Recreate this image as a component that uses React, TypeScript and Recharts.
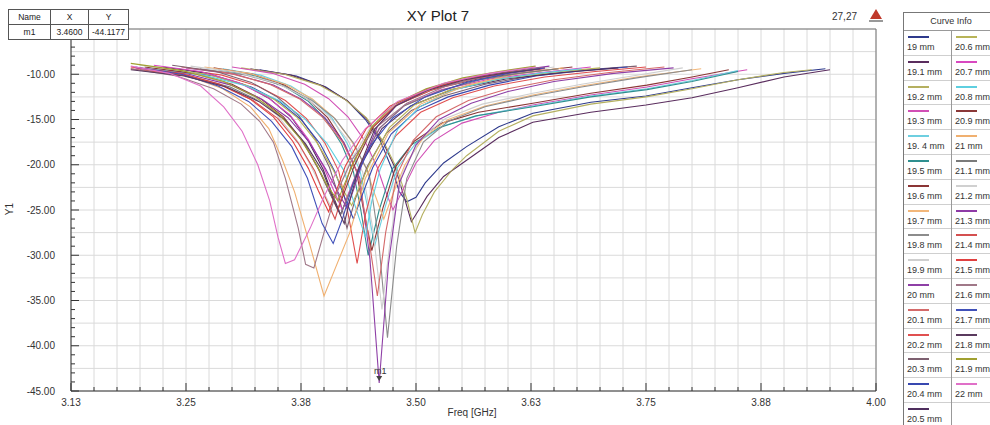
import React from 'react';
import { LineChart, Line, XAxis, YAxis, CartesianGrid, ReferenceLine, ReferenceDot, Label } from 'recharts';

const curveLabels = [
  '19 mm', '19.1 mm', '19.2 mm', '19.3 mm', '19. 4 mm', '19.5 mm', '19.6 mm', '19.7 mm',
  '19.8 mm', '19.9 mm', '20 mm', '20.1 mm', '20.2 mm', '20.3 mm', '20.4 mm', '20.5 mm',
  '20.6 mm', '20.7 mm', '20.8 mm', '20.9 mm', '21 mm', '21.1 mm', '21.2 mm', '21.3 mm',
  '21.4 mm', '21.5 mm', '21.6 mm', '21.7 mm', '21.8 mm', '21.9 mm', '22 mm',
];

const curveColors = [
  '#2e3a8c', '#5a2d5e', '#b5b060', '#d14fb5', '#6ecfe0', '#2f8f8f', '#8b3535', '#f2b77a',
  '#8c8c8c', '#cfcfcf', '#8e3fa6', '#d46a6a', '#e05050', '#7d6070', '#3848b0', '#4e2e5e',
  '#b8b458', '#d848c0', '#5ecfe0', '#8a3838', '#f0b070', '#7a7a7a', '#d0d0d0', '#8e3aa6',
  '#d45050', '#e04040', '#a07888', '#4050b8', '#5a3a5e', '#a0a030', '#e070c8',
];

const curveFreqs: number[][] = [
  [3.330, 3.370, 3.402, 3.426, 3.445, 3.461, 3.474, 3.482, 3.490, 3.500, 3.510, 3.530, 3.555, 3.590, 3.627, 3.690, 3.750, 3.800, 3.850, 3.900, 3.945],
  [3.320, 3.364, 3.399, 3.425, 3.446, 3.464, 3.478, 3.486, 3.495, 3.503, 3.512, 3.530, 3.555, 3.590, 3.627, 3.690, 3.750, 3.800, 3.850, 3.900, 3.950],
  [3.310, 3.357, 3.395, 3.423, 3.446, 3.465, 3.480, 3.490, 3.499, 3.507, 3.520, 3.540, 3.555, 3.590, 3.627, 3.690, 3.750, 3.800, 3.850, 3.900, 3.930],
  [3.300, 3.344, 3.379, 3.405, 3.426, 3.444, 3.458, 3.466, 3.475, 3.487, 3.500, 3.520, 3.550, 3.590, 3.627, 3.690, 3.751, 3.800, 3.860],
  [3.290, 3.331, 3.364, 3.389, 3.409, 3.425, 3.439, 3.447, 3.455, 3.467, 3.480, 3.500, 3.530, 3.570, 3.627, 3.690, 3.751, 3.800, 3.850],
  [3.285, 3.326, 3.358, 3.383, 3.402, 3.419, 3.432, 3.440, 3.448, 3.460, 3.474, 3.495, 3.525, 3.565, 3.627, 3.690, 3.751, 3.800, 3.850],
  [3.280, 3.323, 3.357, 3.383, 3.404, 3.421, 3.435, 3.443, 3.452, 3.464, 3.478, 3.498, 3.528, 3.568, 3.627, 3.690, 3.751, 3.800, 3.840],
  [3.270, 3.319, 3.358, 3.387, 3.410, 3.430, 3.446, 3.455, 3.465, 3.475, 3.488, 3.508, 3.535, 3.575, 3.627, 3.680, 3.740, 3.810],
  [3.265, 3.316, 3.357, 3.387, 3.412, 3.432, 3.449, 3.459, 3.469, 3.479, 3.490, 3.508, 3.535, 3.575, 3.627, 3.680, 3.740, 3.800],
  [3.255, 3.307, 3.349, 3.380, 3.405, 3.426, 3.442, 3.453, 3.463, 3.473, 3.485, 3.505, 3.532, 3.572, 3.627, 3.680, 3.735, 3.790],
  [3.250, 3.303, 3.345, 3.376, 3.401, 3.422, 3.439, 3.450, 3.460, 3.470, 3.482, 3.500, 3.525, 3.560, 3.600, 3.650, 3.715, 3.780],
  [3.245, 3.298, 3.341, 3.373, 3.398, 3.420, 3.437, 3.447, 3.458, 3.467, 3.479, 3.497, 3.522, 3.557, 3.600, 3.650, 3.710, 3.770],
  [3.240, 3.289, 3.328, 3.358, 3.381, 3.401, 3.416, 3.426, 3.436, 3.445, 3.458, 3.478, 3.505, 3.540, 3.585, 3.640, 3.695, 3.750],
  [3.235, 3.283, 3.321, 3.349, 3.372, 3.391, 3.406, 3.416, 3.425, 3.434, 3.447, 3.468, 3.495, 3.530, 3.575, 3.630, 3.685, 3.740],
  [3.230, 3.281, 3.321, 3.351, 3.375, 3.396, 3.412, 3.422, 3.432, 3.441, 3.453, 3.473, 3.500, 3.535, 3.580, 3.630, 3.680, 3.730],
  [3.225, 3.273, 3.312, 3.341, 3.364, 3.383, 3.399, 3.408, 3.418, 3.427, 3.439, 3.463, 3.494, 3.539, 3.599, 3.660, 3.720],
  [3.220, 3.273, 3.315, 3.346, 3.371, 3.392, 3.409, 3.420, 3.430, 3.438, 3.449, 3.471, 3.498, 3.538, 3.592, 3.646, 3.700],
  [3.215, 3.266, 3.307, 3.338, 3.363, 3.383, 3.400, 3.410, 3.420, 3.428, 3.439, 3.461, 3.488, 3.528, 3.582, 3.636, 3.690],
  [3.210, 3.269, 3.316, 3.351, 3.379, 3.403, 3.422, 3.433, 3.445, 3.452, 3.461, 3.480, 3.504, 3.539, 3.586, 3.633, 3.680],
  [3.205, 3.258, 3.300, 3.331, 3.356, 3.377, 3.394, 3.405, 3.415, 3.423, 3.433, 3.453, 3.479, 3.517, 3.568, 3.619, 3.670],
  [3.200, 3.250, 3.290, 3.320, 3.340, 3.355, 3.368, 3.385, 3.400, 3.410, 3.428, 3.445, 3.470, 3.505, 3.556, 3.608, 3.660],
  [3.200, 3.254, 3.298, 3.331, 3.357, 3.379, 3.396, 3.407, 3.418, 3.427, 3.438, 3.460, 3.487, 3.527, 3.570, 3.612, 3.655],
  [3.200, 3.252, 3.293, 3.324, 3.349, 3.370, 3.386, 3.397, 3.407, 3.416, 3.427, 3.450, 3.477, 3.518, 3.562, 3.606, 3.650],
  [3.195, 3.253, 3.299, 3.333, 3.361, 3.384, 3.402, 3.414, 3.425, 3.432, 3.441, 3.458, 3.480, 3.513, 3.557, 3.601, 3.645],
  [3.190, 3.246, 3.290, 3.323, 3.350, 3.372, 3.390, 3.401, 3.412, 3.419, 3.429, 3.451, 3.477, 3.516, 3.557, 3.599, 3.640],
  [3.190, 3.244, 3.287, 3.319, 3.345, 3.366, 3.383, 3.394, 3.405, 3.413, 3.423, 3.446, 3.472, 3.512, 3.555, 3.597, 3.640],
  [3.190, 3.240, 3.280, 3.310, 3.330, 3.345, 3.358, 3.372, 3.380, 3.389, 3.400, 3.412, 3.430, 3.455, 3.490, 3.535, 3.585, 3.635],
  [3.195, 3.245, 3.285, 3.318, 3.343, 3.365, 3.382, 3.398, 3.410, 3.420, 3.432, 3.450, 3.475, 3.510, 3.555, 3.600, 3.640],
  [3.190, 3.248, 3.294, 3.329, 3.357, 3.380, 3.399, 3.410, 3.422, 3.428, 3.437, 3.455, 3.478, 3.512, 3.553, 3.594, 3.635],
  [3.190, 3.246, 3.291, 3.324, 3.351, 3.374, 3.392, 3.403, 3.415, 3.422, 3.432, 3.452, 3.476, 3.511, 3.551, 3.590, 3.630],
  [3.190, 3.232, 3.266, 3.291, 3.311, 3.328, 3.341, 3.350, 3.358, 3.368, 3.385, 3.400, 3.420, 3.445, 3.480, 3.530, 3.580, 3.630],
];

const curveS11: number[][] = [
  [-9.5, -10.2, -11.4, -13.0, -15.0, -17.3, -20.5, -23.0, -24.1, -23.6, -22.0, -19.8, -18.0, -15.8, -14.3, -13.1, -12.4, -11.5, -10.6, -9.9, -9.4],
  [-9.4, -10.1, -11.3, -12.9, -14.9, -17.5, -20.5, -23.2, -26.3, -25.0, -23.5, -21.3, -19.5, -17.0, -15.3, -14.2, -13.4, -12.6, -11.5, -10.3, -9.5],
  [-9.3, -10.0, -11.2, -12.8, -14.8, -17.5, -20.6, -23.8, -27.5, -25.5, -23.0, -20.5, -19.0, -16.3, -14.6, -13.3, -12.5, -11.6, -10.6, -9.8, -9.5],
  [-9.2, -9.9, -11.1, -12.7, -14.7, -17.3, -20.3, -22.7, -25.0, -22.5, -19.8, -17.3, -15.4, -14.2, -13.4, -12.3, -11.4, -10.5, -9.5],
  [-9.4, -10.1, -11.3, -12.9, -14.9, -17.6, -20.6, -24.5, -29.0, -24.5, -20.3, -17.6, -15.7, -14.5, -13.5, -12.4, -11.6, -10.7, -9.6],
  [-9.5, -10.2, -11.4, -13.0, -15.0, -17.7, -20.8, -25.0, -30.0, -25.0, -20.5, -17.8, -15.9, -14.6, -13.6, -12.5, -11.7, -10.8, -9.7],
  [-9.3, -10.0, -11.2, -12.8, -14.8, -17.5, -20.6, -25.0, -29.5, -24.8, -20.2, -17.4, -15.4, -14.2, -13.2, -12.1, -11.2, -10.3, -9.5],
  [-9.2, -9.9, -11.1, -12.7, -14.7, -17.4, -20.4, -23.2, -26.0, -23.2, -20.0, -17.0, -15.0, -13.5, -12.3, -11.3, -10.3, -9.4],
  [-9.4, -10.1, -11.3, -12.9, -14.9, -17.6, -21.0, -28.0, -39.1, -29.0, -21.5, -17.5, -15.2, -13.6, -12.4, -11.4, -10.4, -9.5],
  [-9.1, -9.8, -11.0, -12.6, -14.6, -17.3, -20.8, -27.0, -36.0, -27.5, -21.0, -17.1, -14.9, -13.3, -12.1, -11.1, -10.2, -9.3],
  [-9.3, -10.0, -11.2, -12.8, -14.8, -17.6, -21.5, -30.5, -44.1177, -31.0, -22.0, -17.8, -15.0, -13.2, -11.9, -10.8, -9.9, -9.3],
  [-9.2, -9.9, -11.1, -12.7, -14.7, -17.5, -21.0, -27.0, -34.5, -27.5, -21.2, -17.3, -14.7, -12.9, -11.6, -10.6, -9.8, -9.2],
  [-9.4, -10.1, -11.3, -12.9, -14.9, -17.6, -20.7, -25.3, -30.9, -25.5, -20.5, -16.8, -14.2, -12.6, -11.3, -10.3, -9.7, -9.2],
  [-9.0, -9.7, -10.9, -12.5, -14.5, -17.2, -20.3, -23.5, -27.0, -23.8, -20.2, -16.5, -14.0, -12.4, -11.1, -10.1, -9.5, -9.1],
  [-9.5, -10.2, -11.4, -13.0, -15.0, -17.7, -20.8, -23.5, -26.0, -23.5, -20.3, -16.6, -14.1, -12.5, -11.2, -10.2, -9.6, -9.2],
  [-9.2, -9.9, -11.1, -12.7, -14.7, -17.4, -20.5, -23.0, -25.5, -23.2, -20.2, -16.0, -13.5, -11.7, -10.5, -9.8, -9.3],
  [-9.3, -10.0, -11.2, -12.8, -14.8, -17.5, -20.4, -22.6, -24.5, -22.6, -20.0, -15.9, -13.4, -11.7, -10.5, -9.8, -9.3],
  [-9.0, -9.7, -10.9, -12.5, -14.5, -17.2, -20.3, -22.7, -25.0, -22.8, -20.0, -15.9, -13.4, -11.7, -10.5, -9.8, -9.2],
  [-9.4, -10.1, -11.3, -12.9, -14.9, -17.6, -20.7, -24.3, -28.0, -24.0, -20.5, -16.1, -13.6, -11.8, -10.6, -9.9, -9.4],
  [-9.2, -9.9, -11.1, -12.7, -14.7, -17.4, -20.5, -22.8, -25.0, -22.8, -20.1, -15.9, -13.4, -11.7, -10.5, -9.8, -9.2],
  [-9.3, -10.1, -11.6, -13.6, -16.0, -19.5, -23.0, -29.0, -34.5, -32.0, -27.5, -21.5, -16.5, -13.3, -11.2, -10.0, -9.3],
  [-9.5, -10.2, -11.4, -13.0, -15.0, -17.7, -20.8, -23.3, -25.5, -23.3, -20.3, -16.0, -13.5, -11.8, -10.6, -9.9, -9.4],
  [-9.0, -9.7, -10.9, -12.5, -14.5, -17.2, -20.2, -22.5, -24.5, -22.6, -20.0, -15.9, -13.4, -11.7, -10.5, -9.8, -9.2],
  [-9.3, -10.0, -11.2, -12.8, -14.8, -17.5, -20.5, -22.8, -24.8, -22.8, -20.0, -15.8, -13.3, -11.6, -10.4, -9.7, -9.1],
  [-9.4, -10.1, -11.3, -12.9, -14.9, -17.6, -20.7, -23.5, -26.0, -23.6, -20.3, -16.0, -13.5, -11.8, -10.6, -9.9, -9.4],
  [-9.2, -9.9, -11.1, -12.7, -14.7, -17.4, -20.4, -22.9, -25.2, -23.0, -20.2, -16.0, -13.5, -11.7, -10.5, -9.8, -9.3],
  [-9.4, -10.2, -11.6, -13.3, -15.2, -17.5, -21.5, -27.0, -31.0, -31.4, -27.5, -23.5, -19.5, -16.0, -13.2, -11.2, -10.0, -9.3],
  [-9.2, -10.0, -11.3, -13.0, -15.2, -18.0, -21.5, -26.5, -28.7, -26.0, -22.0, -18.0, -14.8, -12.5, -10.9, -9.9, -9.3],
  [-9.5, -10.2, -11.4, -13.0, -15.0, -17.7, -20.8, -23.8, -26.5, -24.0, -20.6, -16.1, -13.5, -11.8, -10.6, -9.9, -9.4],
  [-8.8, -9.6, -10.8, -12.4, -14.4, -17.1, -20.0, -22.2, -24.0, -22.2, -19.8, -15.8, -13.3, -11.6, -10.4, -9.7, -9.1],
  [-9.1, -9.9, -11.3, -13.6, -16.3, -20.0, -24.0, -28.0, -30.9, -30.5, -27.0, -23.5, -19.5, -16.0, -13.0, -11.0, -9.9, -9.2],
];

const xMajorTicks = [3.125, 3.25, 3.375, 3.5, 3.625, 3.75, 3.875, 4.0];
const xAllTicks = [
  3.125, 3.15, 3.175, 3.2, 3.225, 3.25, 3.275, 3.3, 3.325, 3.35, 3.375, 3.4, 3.425, 3.45, 3.475, 3.5,
  3.525, 3.55, 3.575, 3.6, 3.625, 3.65, 3.675, 3.7, 3.725, 3.75, 3.775, 3.8, 3.825, 3.85, 3.875, 3.9,
  3.925, 3.95, 3.975, 4.0,
];
const yMajorTicks = [-45, -40, -35, -30, -25, -20, -15, -10];
const yAllTicks = [
  -45, -44, -43, -42, -41, -40, -39, -38, -37, -36, -35, -34, -33, -32, -31, -30, -29, -28, -27, -26,
  -25, -24, -23, -22, -21, -20, -19, -18, -17, -16, -15, -14, -13, -12, -11, -10, -9, -8, -7, -6,
];
const yGridValues = [-45, -42.5, -40, -37.5, -35, -32.5, -30, -27.5, -25, -22.5, -20, -17.5, -15, -12.5, -10, -7.5, -5];

const markerName = 'm1';
const markerX = 3.46;
const markerY = -44.1177;

const FONT = '"Liberation Sans", Arial, sans-serif';

const XTick = (props: any) => {
  const { x, y, payload } = props;
  const v = payload.value as number;
  const major = xMajorTicks.some((m) => Math.abs(m - v) < 1e-6);
  return (
    <g>
      <line x1={x} x2={x} y1={y} y2={y - (major ? 8 : 4)} stroke="#333" strokeWidth={1} />
      {major && (
        <text x={x} y={y + 15} textAnchor="middle" fontSize={10} fill="#333" fontFamily={FONT}>
          {v.toFixed(2)}
        </text>
      )}
    </g>
  );
};

const YTick = (props: any) => {
  const { x, y, payload } = props;
  const v = payload.value as number;
  const major = yMajorTicks.includes(v);
  return (
    <g>
      <line x1={x} x2={x + (major ? 8 : 4)} y1={y} y2={y} stroke="#333" strokeWidth={1} />
      {major && (
        <text x={x - 16} y={y + 3.5} textAnchor="end" fontSize={10} fill="#333" fontFamily={FONT}>
          {v.toFixed(2)}
        </text>
      )}
    </g>
  );
};

const MarkerShape = (props: any) => {
  const { cx, cy } = props;
  return (
    <g>
      <text x={cx + 1} y={cy - 9} textAnchor="middle" fontSize={9} fill="#333" fontFamily={FONT}>
        {markerName}
      </text>
      <path d={`M${cx - 3},${cy - 7} L${cx + 3},${cy - 7} L${cx},${cy - 2} Z`} fill="#444" />
    </g>
  );
};

const ROW_H = 24.8;

const CurveInfo = () => {
  const col1 = curveLabels.slice(0, 16).map((l, i) => ({ l, c: curveColors[i] }));
  const col2 = curveLabels.slice(16).map((l, i) => ({ l, c: curveColors[16 + i] }));
  const cell = (item: { l: string; c: string } | undefined, key: number, left: number) => (
    <div
      key={key}
      style={{
        position: 'absolute',
        left,
        top: 18 + key * ROW_H,
        width: 47,
        height: ROW_H,
        borderBottom: '1px solid #cfcfcf',
        boxSizing: 'border-box',
      }}
    >
      {item && (
        <>
          <div style={{ position: 'absolute', left: 4, top: 5, width: 21, height: 2, background: item.c }} />
          <div style={{ position: 'absolute', left: 3, top: 11, fontSize: 9, color: '#333', whiteSpace: 'nowrap' }}>
            {item.l}
          </div>
        </>
      )}
    </div>
  );
  return (
    <div
      style={{
        position: 'absolute',
        left: 903,
        top: 12,
        width: 96,
        height: 430,
        border: '1px solid #777',
        background: '#fff',
        fontFamily: FONT,
        boxSizing: 'border-box',
      }}
    >
      <div
        style={{
          position: 'absolute',
          left: 0,
          top: 0,
          width: 94,
          height: 18,
          borderBottom: '1px solid #999',
          boxSizing: 'border-box',
          textAlign: 'center',
          fontSize: 9,
          lineHeight: '17px',
          color: '#333',
        }}
      >
        Curve Info
      </div>
      <div style={{ position: 'absolute', left: 47, top: 18, width: 1, height: 420, background: '#999' }} />
      {col1.map((it, i) => cell(it, i, 0))}
      {col2.map((it, i) => cell(it, i, 48))}
    </div>
  );
};

const MarkerTable = () => {
  const cellStyle = (left: number, width: number, top: number, height: number): React.CSSProperties => ({
    position: 'absolute',
    left,
    top,
    width,
    height,
    borderRight: '1px solid #555',
    boxSizing: 'border-box',
    textAlign: 'center',
    fontSize: 8.5,
    lineHeight: `${height}px`,
    color: '#222',
  });
  return (
    <div
      style={{
        position: 'absolute',
        left: 8,
        top: 9,
        width: 121,
        height: 31,
        border: '1px solid #555',
        background: '#fff',
        fontFamily: FONT,
        boxSizing: 'border-box',
      }}
    >
      <div style={{ position: 'absolute', left: 0, top: 14, width: 119, height: 1, background: '#555' }} />
      <div style={cellStyle(0, 42, 0, 14)}>Name</div>
      <div style={cellStyle(42, 38, 0, 14)}>X</div>
      <div style={{ ...cellStyle(80, 39, 0, 14), borderRight: 'none' }}>Y</div>
      <div style={cellStyle(0, 42, 15, 15)}>{markerName}</div>
      <div style={cellStyle(42, 38, 15, 15)}>{markerX.toFixed(4)}</div>
      <div style={{ ...cellStyle(80, 39, 15, 15), borderRight: 'none' }}>{markerY.toFixed(4)}</div>
    </div>
  );
};

export default function App() {
  return (
    <div
      style={{
        position: 'absolute',
        left: 0,
        top: 0,
        width: 990,
        height: 425,
        background: '#fff',
        overflow: 'hidden',
        fontFamily: FONT,
      }}
    >
      <div style={{ position: 'absolute', left: 0, top: 0 }}>
        <LineChart width={990} height={425} margin={{ top: 29, right: 114, bottom: 0, left: 0 }}>
          <CartesianGrid
            stroke="#dadada"
            strokeWidth={1}
            horizontalValues={yGridValues}
            verticalValues={xAllTicks}
          />
          <XAxis
            type="number"
            dataKey="f"
            domain={[3.125, 4.0]}
            allowDataOverflow
            ticks={xAllTicks}
            interval={0}
            tick={<XTick />}
            tickLine={false}
            tickSize={0}
            tickMargin={0}
            height={34}
            axisLine={{ stroke: '#333', strokeWidth: 1 }}
          >
            <Label
              content={() => (
                <text x={472} y={416} textAnchor="middle" fontSize={10} fill="#333" fontFamily={FONT}>
                  Freq [GHz]
                </text>
              )}
            />
          </XAxis>
          <YAxis
            type="number"
            domain={[-45, -5]}
            allowDataOverflow
            ticks={yAllTicks}
            interval={0}
            tick={<YTick />}
            tickLine={false}
            tickSize={0}
            tickMargin={0}
            width={71}
            axisLine={{ stroke: '#333', strokeWidth: 1 }}
          >
            <Label
              content={() => (
                <text
                  x={13}
                  y={209}
                  textAnchor="middle"
                  fontSize={10}
                  fill="#333"
                  fontFamily={FONT}
                  transform="rotate(-90 13 209)"
                >
                  Y1
                </text>
              )}
            />
          </YAxis>
          <ReferenceLine y={-5} stroke="#777" strokeWidth={1} />
          <ReferenceLine x={4.0} stroke="#777" strokeWidth={1} />
          {curveFreqs.map((fs, i) => (
            <Line
              key={curveLabels[i]}
              data={fs.map((f, j) => ({ f, v: curveS11[i][j] }))}
              dataKey="v"
              type="linear"
              stroke={curveColors[i]}
              strokeWidth={1.1}
              dot={false}
              activeDot={false}
              isAnimationActive={false}
            />
          ))}
          <ReferenceDot x={markerX} y={markerY} r={3} shape={<MarkerShape />} />
        </LineChart>
      </div>
      <MarkerTable />
      <div
        style={{
          position: 'absolute',
          left: 338,
          top: 7,
          width: 200,
          textAlign: 'center',
          fontSize: 15,
          color: '#222',
        }}
      >
        XY Plot 7
      </div>
      <div style={{ position: 'absolute', left: 832, top: 11, fontSize: 10, color: '#333' }}>27,27</div>
      <svg style={{ position: 'absolute', left: 867, top: 8 }} width={18} height={16}>
        <path d="M9,1 L15,11 L3,11 Z" fill="#c0392b" />
        <rect x={2} y={12} width={14} height={2} fill="#999" />
      </svg>
      <CurveInfo />
    </div>
  );
}
